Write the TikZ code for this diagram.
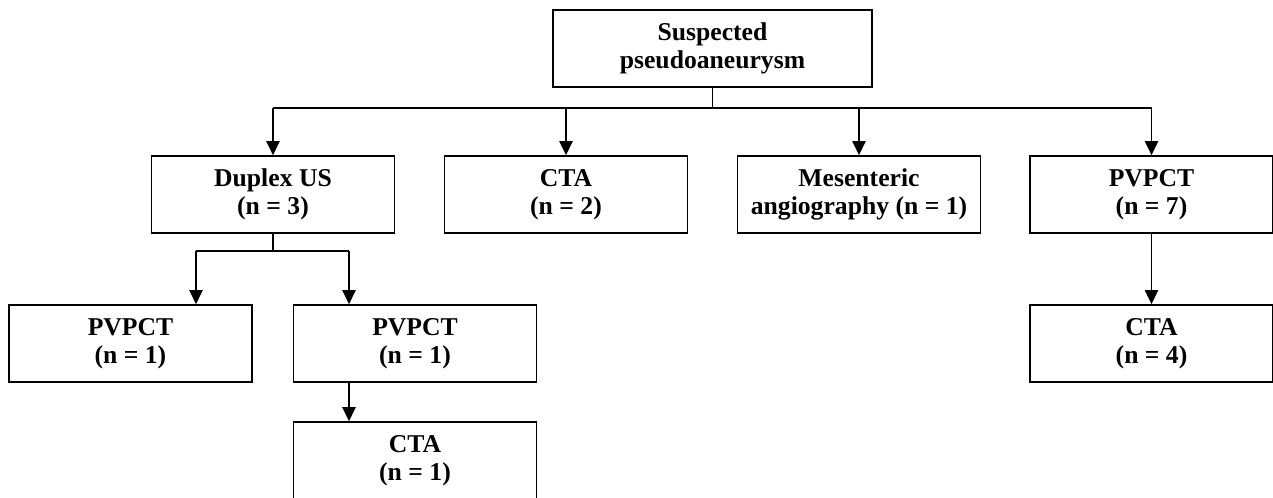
\documentclass[tikz,border=0pt]{standalone}
\usepackage{fontspec}
\setmainfont{Liberation Serif}
\usetikzlibrary{arrows.meta}
\begin{document}
\begin{tikzpicture}[x=0.02cm,y=-0.02cm,line width=0.9pt,
	box/.style={draw,rectangle,align=center,minimum width=4.86cm,minimum height=1.54cm,inner sep=2pt,font=\fontsize{14.6}{16.2}\selectfont\bfseries},
	arr/.style={-{Triangle[width=7.5pt,length=8pt]}}]
\clip (0,0) rectangle (1273,497);
\node[box,minimum width=6.38cm](top) at (712.5,48.5){Suspected\\pseudoaneurysm};
\node[box](duplex) at (273,194.5){Duplex US\\(n = 3)};
\node[box](cta) at (566,194.5){CTA\\(n = 2)};
\node[box](mes) at (859,194.5){Mesenteric\\angiography (n = 1)};
\node[box](pvpct) at (1151.5,194.5){PVPCT\\(n = 7)};
\node[box](pv1) at (130.5,343.5){PVPCT\\(n = 1)};
\node[box](pv2) at (415,343.5){PVPCT\\(n = 1)};
\node[box](cta1) at (415,460.5){CTA\\(n = 1)};
\node[box](cta4) at (1151.5,343.5){CTA\\(n = 4)};
\coordinate (bus) at (0,108);
\coordinate (d1) at (196,251);
\coordinate (d2) at (349,251);
\draw (top.south) -- (top.south|-bus);
\draw (duplex|-bus) -- (pvpct|-bus);
\foreach \n in {duplex,cta,mes,pvpct}
	\draw[arr] (\n|-bus) -- (\n.north);
\draw (duplex.south) -- (duplex|-d1);
\draw (d1) -- (d2);
\draw[arr] (d1) -- (d1|-pv1.north);
\draw[arr] (d2) -- (d2|-pv2.north);
\draw[arr] (d2|-pv2.south) -- (d2|-cta1.north);
\draw[arr] (pvpct.south) -- (cta4.north);
\end{tikzpicture}
\end{document}
